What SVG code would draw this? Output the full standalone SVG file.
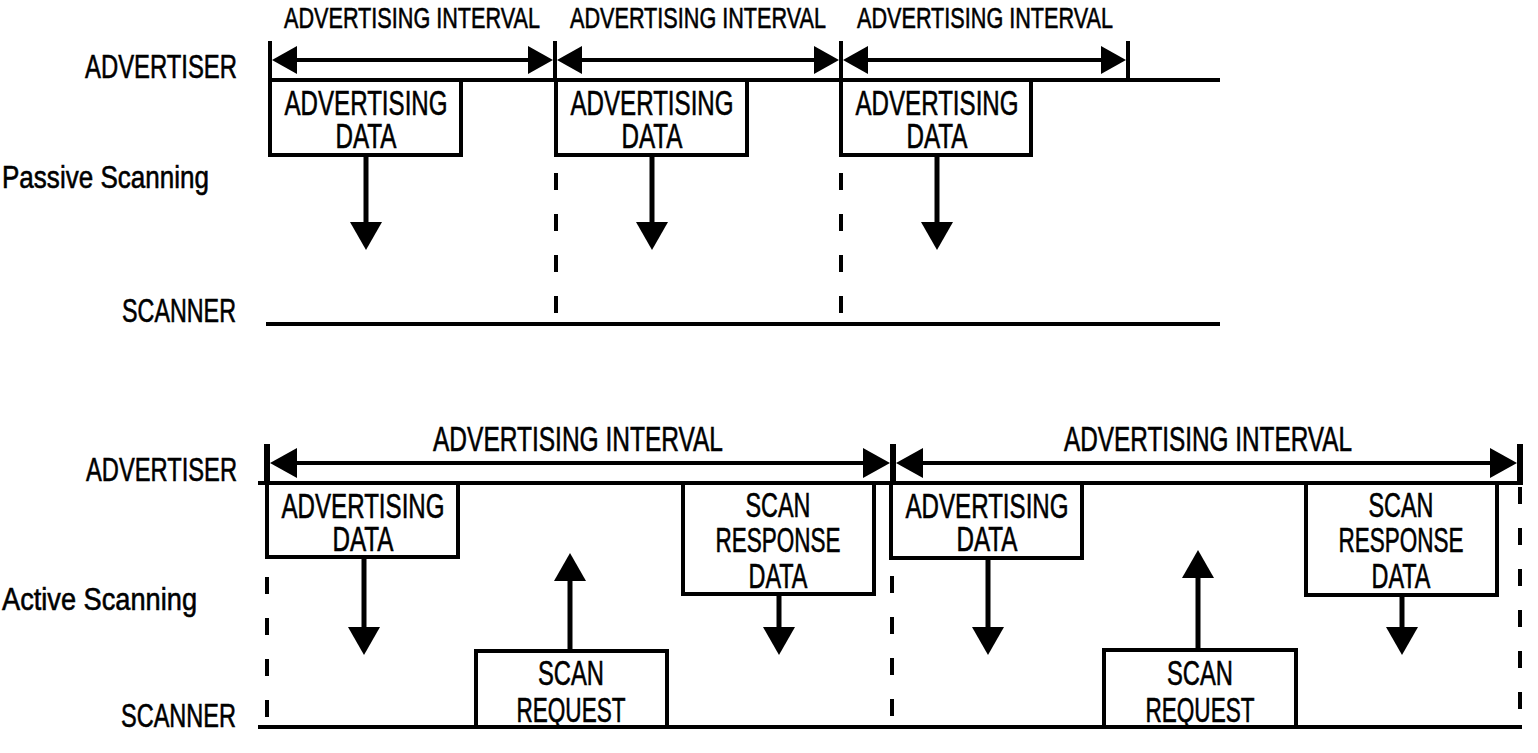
<svg xmlns="http://www.w3.org/2000/svg" width="1538" height="753" viewBox="0 0 1538 753">
  <style>
    .lane { stroke:#000; stroke-width:4; fill:none; }
    .tick { stroke:#000; stroke-width:4; }
    .tick2 { stroke:#000; stroke-width:6; }
    .dash { stroke:#000; stroke-width:4; stroke-dasharray:17 24; }
    .box { fill:#fff; stroke:#000; stroke-width:4; }
    .shaft { stroke:#000; stroke-width:5; fill:none; }
    .span { stroke:#000; stroke-width:4; fill:none; }
    text { font-family:"Liberation Sans Narrow","Liberation Sans",Arial,sans-serif; fill:#000; stroke:#000; stroke-width:0.6px; }
    .lbl { font-size:33px; text-anchor:end; }
    .mode { font-size:32px; }
    .bx { font-size:35px; text-anchor:middle; }
    .iv1 { font-size:30px; text-anchor:middle; }
    .iv2 { font-size:35px; text-anchor:middle; }
  </style>
  <defs>
    <marker id="headS" viewBox="-17 -15 29 30" markerWidth="29" markerHeight="30" refX="0" refY="0" orient="auto-start-reverse" markerUnits="userSpaceOnUse">
      <path d="M10,0 L-15,-14 L-15,14 Z" fill="#000"/>
    </marker>
    <marker id="headL" viewBox="-19 -16 31 32" markerWidth="31" markerHeight="32" refX="0" refY="0" orient="auto-start-reverse" markerUnits="userSpaceOnUse">
      <path d="M10,0 L-17,-15 L-17,15 Z" fill="#000"/>
    </marker>
    <marker id="headV" viewBox="-10 -18 32 36" markerWidth="32" markerHeight="36" refX="0" refY="0" orient="auto" markerUnits="userSpaceOnUse">
      <path d="M20,0 L-8,-16 L-8,16 Z" fill="#000"/>
    </marker>
  </defs>
  <rect width="1538" height="753" fill="#fff"/>

  <!-- lane labels -->
  <g id="labels">
    <text class="lbl" x="237" y="78" textLength="152" lengthAdjust="spacingAndGlyphs">ADVERTISER</text>
    <text class="mode" x="2" y="188" textLength="207" lengthAdjust="spacingAndGlyphs">Passive Scanning</text>
    <text class="lbl" x="236" y="322" textLength="114" lengthAdjust="spacingAndGlyphs">SCANNER</text>
    <text class="lbl" x="237" y="481" textLength="151" lengthAdjust="spacingAndGlyphs">ADVERTISER</text>
    <text class="mode" x="2" y="610" textLength="195" lengthAdjust="spacingAndGlyphs">Active Scanning</text>
    <text class="lbl" x="236" y="727" textLength="115" lengthAdjust="spacingAndGlyphs">SCANNER</text>
  </g>

  <!-- passive scanning timeline -->
  <g id="passive-timeline">
    <line class="lane" x1="268" y1="80" x2="1220" y2="80"/>
    <line class="lane" x1="266" y1="324" x2="1220" y2="324"/>
    <line class="tick" x1="270" y1="41" x2="270" y2="82"/>
    <line class="tick" x1="555" y1="41" x2="555" y2="82"/>
    <line class="tick" x1="841" y1="41" x2="841" y2="82"/>
    <line class="tick" x1="1128" y1="41" x2="1128" y2="82"/>
    <line class="dash" x1="556" y1="173" x2="556" y2="326"/>
    <line class="dash" x1="841" y1="173" x2="841" y2="326"/>
    <text class="iv1" x="412" y="28" textLength="256" lengthAdjust="spacingAndGlyphs">ADVERTISING INTERVAL</text>
    <text class="iv1" x="698" y="28" textLength="256" lengthAdjust="spacingAndGlyphs">ADVERTISING INTERVAL</text>
    <text class="iv1" x="985" y="28" textLength="256" lengthAdjust="spacingAndGlyphs">ADVERTISING INTERVAL</text>
  </g>

  <!-- active scanning timeline -->
  <g id="active-timeline">
    <line class="lane" x1="258" y1="483" x2="1522" y2="483"/>
    <line class="lane" x1="258" y1="727" x2="1522" y2="727"/>
    <line class="tick2" x1="267" y1="444" x2="267" y2="485"/>
    <line class="tick2" x1="893" y1="444" x2="893" y2="485"/>
    <line class="tick2" x1="1520" y1="444" x2="1520" y2="485"/>
    <line class="dash" x1="267" y1="577" x2="267" y2="729"/>
    <line class="dash" x1="892" y1="576" x2="892" y2="729"/>
    <line class="dash" x1="1520" y1="487" x2="1520" y2="729"/>
    <text class="iv2" x="578" y="451" textLength="290" lengthAdjust="spacingAndGlyphs">ADVERTISING INTERVAL</text>
    <text class="iv2" x="1208" y="451" textLength="288" lengthAdjust="spacingAndGlyphs">ADVERTISING INTERVAL</text>
  </g>

  <!-- passive packets -->
  <g id="p-adv-1">
    <rect class="box" x="270" y="80" width="191" height="75"/>
    <text class="bx" x="366" y="115" textLength="163" lengthAdjust="spacingAndGlyphs">ADVERTISING</text>
    <text class="bx" x="366" y="148" textLength="61" lengthAdjust="spacingAndGlyphs">DATA</text>
  </g>
  <g id="p-adv-2">
    <rect class="box" x="556" y="80" width="191" height="75"/>
    <text class="bx" x="652" y="115" textLength="163" lengthAdjust="spacingAndGlyphs">ADVERTISING</text>
    <text class="bx" x="652" y="148" textLength="61" lengthAdjust="spacingAndGlyphs">DATA</text>
  </g>
  <g id="p-adv-3">
    <rect class="box" x="841" y="80" width="190" height="75"/>
    <text class="bx" x="937" y="115" textLength="163" lengthAdjust="spacingAndGlyphs">ADVERTISING</text>
    <text class="bx" x="937" y="148" textLength="61" lengthAdjust="spacingAndGlyphs">DATA</text>
  </g>

  <!-- active packets -->
  <g id="a-adv-1">
    <rect class="box" x="267" y="483" width="191" height="74"/>
    <text class="bx" x="363" y="518" textLength="163" lengthAdjust="spacingAndGlyphs">ADVERTISING</text>
    <text class="bx" x="363" y="551" textLength="61" lengthAdjust="spacingAndGlyphs">DATA</text>
  </g>
  <g id="a-req-1">
    <rect class="box" x="476" y="651" width="191" height="76"/>
    <text class="bx" x="571" y="685" textLength="66" lengthAdjust="spacingAndGlyphs">SCAN</text>
    <text class="bx" x="571" y="722" textLength="109" lengthAdjust="spacingAndGlyphs">REQUEST</text>
  </g>
  <g id="a-rsp-1">
    <rect class="box" x="683" y="483" width="191" height="111"/>
    <text class="bx" x="778" y="517" textLength="65" lengthAdjust="spacingAndGlyphs">SCAN</text>
    <text class="bx" x="778" y="552" textLength="125" lengthAdjust="spacingAndGlyphs">RESPONSE</text>
    <text class="bx" x="778" y="588" textLength="59" lengthAdjust="spacingAndGlyphs">DATA</text>
  </g>
  <g id="a-adv-2">
    <rect class="box" x="891" y="483" width="191" height="75"/>
    <text class="bx" x="987" y="518" textLength="163" lengthAdjust="spacingAndGlyphs">ADVERTISING</text>
    <text class="bx" x="987" y="551" textLength="61" lengthAdjust="spacingAndGlyphs">DATA</text>
  </g>
  <g id="a-req-2">
    <rect class="box" x="1104" y="650" width="192" height="77"/>
    <text class="bx" x="1200" y="685" textLength="66" lengthAdjust="spacingAndGlyphs">SCAN</text>
    <text class="bx" x="1200" y="722" textLength="109" lengthAdjust="spacingAndGlyphs">REQUEST</text>
  </g>
  <g id="a-rsp-2">
    <rect class="box" x="1306" y="483" width="191" height="112"/>
    <text class="bx" x="1401" y="517" textLength="65" lengthAdjust="spacingAndGlyphs">SCAN</text>
    <text class="bx" x="1401" y="552" textLength="125" lengthAdjust="spacingAndGlyphs">RESPONSE</text>
    <text class="bx" x="1401" y="588" textLength="59" lengthAdjust="spacingAndGlyphs">DATA</text>
  </g>

  <!-- connectors: interval spans and packet transfers -->
  <g id="connectors">
    <line class="span" x1="282" y1="60" x2="543" y2="60" marker-start="url(#headS)" marker-end="url(#headS)"/>
    <line class="span" x1="567" y1="60" x2="829" y2="60" marker-start="url(#headS)" marker-end="url(#headS)"/>
    <line class="span" x1="853" y1="60" x2="1116" y2="60" marker-start="url(#headS)" marker-end="url(#headS)"/>
    <line class="span" x1="280" y1="463" x2="880" y2="463" marker-start="url(#headL)" marker-end="url(#headL)"/>
    <line class="span" x1="906" y1="463" x2="1507" y2="463" marker-start="url(#headL)" marker-end="url(#headL)"/>

    <line class="shaft" x1="366" y1="157" x2="366" y2="230" marker-end="url(#headV)"/>
    <line class="shaft" x1="652" y1="157" x2="652" y2="230" marker-end="url(#headV)"/>
    <line class="shaft" x1="937" y1="157" x2="937" y2="230" marker-end="url(#headV)"/>

    <line class="shaft" x1="364" y1="559" x2="364" y2="635" marker-end="url(#headV)"/>
    <line class="shaft" x1="570" y1="649" x2="570" y2="573" marker-end="url(#headV)"/>
    <line class="shaft" x1="779" y1="596" x2="779" y2="635" marker-end="url(#headV)"/>
    <line class="shaft" x1="988" y1="560" x2="988" y2="635" marker-end="url(#headV)"/>
    <line class="shaft" x1="1198" y1="648" x2="1198" y2="570" marker-end="url(#headV)"/>
    <line class="shaft" x1="1402" y1="597" x2="1402" y2="635" marker-end="url(#headV)"/>
  </g>
</svg>
